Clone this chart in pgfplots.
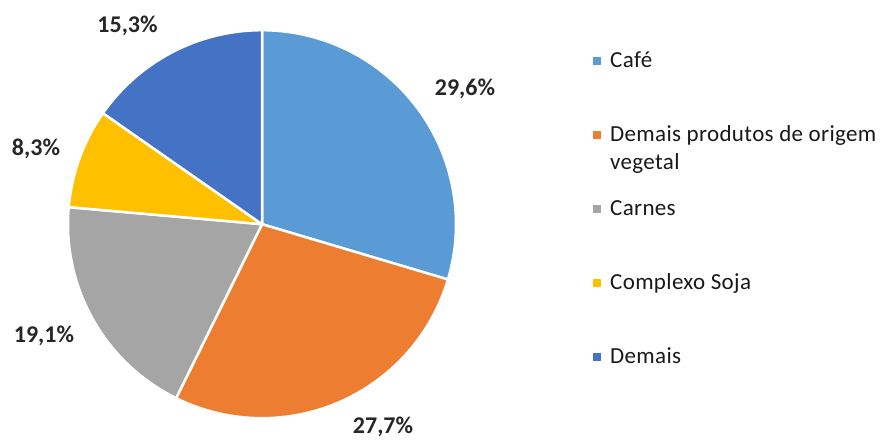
\documentclass[border=0pt]{standalone}
\usepackage{fontspec}
\setmainfont{Carlito}
\usepackage{pgfplots}
\usepackage{pgfplotstable}
\pgfplotsset{compat=1.18}
\definecolor{cA}{HTML}{5B9BD5}
\definecolor{cB}{HTML}{ED7D31}
\definecolor{cC}{HTML}{A5A5A5}
\definecolor{cD}{HTML}{FFC000}
\definecolor{cE}{HTML}{4472C4}
\pgfplotstableread{
label value
Cafe 29.6
DemaisProd 27.7
Carnes 19.1
Soja 8.3
Demais 15.3
}\piedata
\pgfplotstablegetelem{0}{value}\of\piedata \let\vA\pgfplotsretval
\pgfplotstablegetelem{1}{value}\of\piedata \let\vB\pgfplotsretval
\pgfplotstablegetelem{2}{value}\of\piedata \let\vC\pgfplotsretval
\pgfplotstablegetelem{3}{value}\of\piedata \let\vD\pgfplotsretval
\pgfplotstablegetelem{4}{value}\of\piedata \let\vE\pgfplotsretval
\pgfmathsetmacro\aA{90}
\pgfmathsetmacro\aB{\aA-3.6*\vA}
\pgfmathsetmacro\aC{\aB-3.6*\vB}
\pgfmathsetmacro\aD{\aC-3.6*\vC}
\pgfmathsetmacro\aE{\aD-3.6*\vD}
\pgfmathsetmacro\aF{\aE-3.6*\vE}
\begin{document}
\begin{tikzpicture}
\path[use as bounding box] (0,0) rectangle (882pt,439pt);
\begin{axis}[
  at={(0,0)}, anchor=south west,
  x=194pt, y=194pt,
  xmin=-1.3505, xmax=3.1959, ymin=-1.1072, ymax=1.1588,
  hide axis, clip=false,
  legend image code/.code={\fill[#1,draw=none] (0pt,3pt) rectangle (8pt,11pt);},
  legend cell align=left,
  legend style={at={(0.6723,0.8815)}, anchor=north west, draw=none, fill=none,
    inner sep=0pt, row sep=0pt, column sep=9pt,
    font=\fontsize{23}{28}\selectfont\addfontfeatures{LetterSpace=1.5},
    text=black!90,
    nodes={inner sep=0pt, text height=16pt, text depth=58pt, anchor=base west}},
  pie/.style={draw=white, line width=2.5pt, line join=round, samples=90, variable=\t},
]
\addplot[pie, fill=cA, domain=\aB:\aA] ({cos(\t)},{sin(\t)}) -- (0,0) -- cycle;
\addlegendentry{Café}
\addplot[pie, fill=cB, domain=\aC:\aB] ({cos(\t)},{sin(\t)}) -- (0,0) -- cycle;
\addlegendentry{\makebox[0pt][l]{\raisebox{-28pt}[0pt][0pt]{vegetal}}Demais produtos de origem}
\addplot[pie, fill=cC, domain=\aD:\aC] ({cos(\t)},{sin(\t)}) -- (0,0) -- cycle;
\addlegendentry{Carnes}
\addplot[pie, fill=cD, domain=\aE:\aD] ({cos(\t)},{sin(\t)}) -- (0,0) -- cycle;
\addlegendentry{Complexo Soja}
\addplot[pie, fill=cE, domain=\aF:\aE] ({cos(\t)},{sin(\t)}) -- (0,0) -- cycle;
\addlegendentry{Demais}
\begin{scope}[every node/.style={anchor=base, font=\fontsize{24}{28}\selectfont\bfseries, text=black!85}]
\node at (axis cs:1.046,0.664) {29,6\%};
\node at (axis cs:0.624,-1.078) {27,7\%};
\node at (axis cs:-1.124,-0.609) {19,1\%};
\node at (axis cs:-1.165,0.355) {8,3\%};
\node at (axis cs:-0.693,0.989) {15,3\%};
\end{scope}
\end{axis}
\end{tikzpicture}
\end{document}
